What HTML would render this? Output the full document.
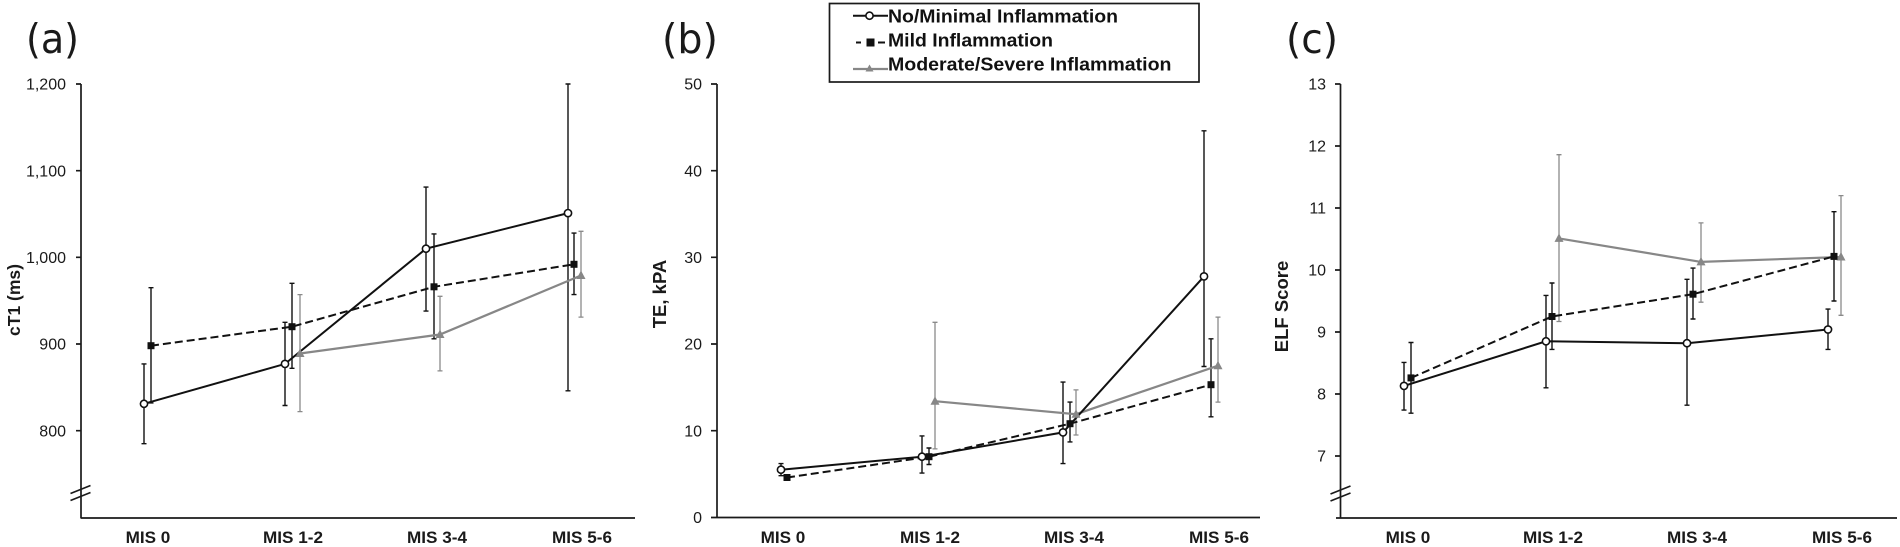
<!DOCTYPE html>
<html>
<head>
<meta charset="utf-8">
<style>
  html, body { margin: 0; padding: 0; background: #ffffff; }
  body { width: 1900px; height: 547px; overflow: hidden; }
  svg { display: block; }
  .tick { font-family: "Liberation Sans", Arial, sans-serif; font-size: 16px; fill: #1a1a1a; text-anchor: end; }
  .xl { font-family: "Liberation Sans", Arial, sans-serif; font-size: 16.5px; font-weight: bold; fill: #1a1a1a; text-anchor: middle; }
  .yt { font-family: "Liberation Sans", Arial, sans-serif; font-weight: bold; fill: #1a1a1a; text-anchor: middle; }
  .pl { font-family: "DejaVu Sans", "Liberation Sans", sans-serif; font-size: 41px; fill: #1a1a1a; }
  .lg { font-family: "Liberation Sans", Arial, sans-serif; font-size: 18.6px; font-weight: bold; fill: #111; }
  .ax { stroke: #1a1a1a; stroke-width: 1.7; fill: none; }
  .eb { stroke: #111; stroke-width: 1.4; fill: none; }
  .ebg { stroke: #8a8a8a; stroke-width: 1.3; fill: none; }
  .ls { stroke: #111; stroke-width: 2; fill: none; }
  .ld { stroke: #111; stroke-width: 2; fill: none; stroke-dasharray: 8 4; }
  .lgy { stroke: #878787; stroke-width: 2.2; fill: none; }
  .circ { fill: #fff; stroke: #111; stroke-width: 1.6; }
  .sq { fill: #111; }
  .tri { fill: #878787; }
</style>
</head>
<body>
<svg width="1900" height="547" viewBox="0 0 1900 547" xmlns="http://www.w3.org/2000/svg">
  <rect x="0" y="0" width="1900" height="547" fill="#fff"/>

  <!-- ================= Panel (a) ================= -->
  <text class="pl" x="26" y="53" textLength="53" lengthAdjust="spacingAndGlyphs">(a)</text>
  <path class="ax" d="M81,84 V518.5 M81,518 H635"/>
  <path class="ax" d="M76,84 H81 M76,170.7 H81 M76,257.3 H81 M76,344 H81 M76,430.7 H81"/>
  <path class="ax" d="M70.5,493.5 L90.5,485.5 M70.5,500.5 L90.5,492.5" stroke-width="1.4"/>
  <text class="tick" x="66" y="89.7">1,200</text>
  <text class="tick" x="66" y="176.4">1,100</text>
  <text class="tick" x="66" y="263">1,000</text>
  <text class="tick" x="66" y="349.7">900</text>
  <text class="tick" x="66" y="436.4">800</text>
  <text class="yt" font-size="17.5" transform="translate(20,300) rotate(-90)">cT1 (ms)</text>
  <text class="xl" x="148" y="543" textLength="44.7" lengthAdjust="spacingAndGlyphs">MIS 0</text>
  <text class="xl" x="293" y="543" textLength="60" lengthAdjust="spacingAndGlyphs">MIS 1-2</text>
  <text class="xl" x="437" y="543" textLength="60" lengthAdjust="spacingAndGlyphs">MIS 3-4</text>
  <text class="xl" x="582" y="543" textLength="60" lengthAdjust="spacingAndGlyphs">MIS 5-6</text>
  <path class="ebg" d="M300,294.6 V411.6 M297.5,294.6 H302.5 M297.5,411.6 H302.5
                       M440,296.3 V370.9 M437.5,296.3 H442.5 M437.5,370.9 H442.5
                       M581,231.3 V317.1 M578.5,231.3 H583.5 M578.5,317.1 H583.5"/>
  <path class="eb" d="M151,287.7 V402.9 M148.5,287.7 H153.5 M148.5,402.9 H153.5
                      M292,283.3 V368.3 M289.5,283.3 H294.5 M289.5,368.3 H294.5
                      M434,233.9 V338.8 M431.5,233.9 H436.5 M431.5,338.8 H436.5
                      M574,233.1 V294.6 M571.5,233.1 H576.5 M571.5,294.6 H576.5"/>
  <path class="eb" d="M144,363.9 V443.7 M141.5,363.9 H146.5 M141.5,443.7 H146.5
                      M285,322.3 V405.5 M282.5,322.3 H287.5 M282.5,405.5 H287.5
                      M426,187.1 V311.1 M423.5,187.1 H428.5 M423.5,311.1 H428.5
                      M568,84 V390.8 M565.5,84 H570.5 M565.5,390.8 H570.5"/>
  <path class="lgy" d="M300,353.5 L440,334.5 L581,275.5"/>
  <path class="ld" d="M151,345.7 L292,326.7 L434,286.8 L574,264.3"/>
  <path class="ls" d="M144,403.8 L285,363.9 L426,248.7 L568,213.1"/>
  <path class="tri" d="M300,348.5 L295.5,357 L304.5,357 Z M440,329.5 L435.5,338 L444.5,338 Z M581,270.5 L576.5,279 L585.5,279 Z"/>
  <rect class="sq" x="147.5" y="342.2" width="7" height="7"/>
  <rect class="sq" x="288.5" y="323.2" width="7" height="7"/>
  <rect class="sq" x="430.5" y="283.3" width="7" height="7"/>
  <rect class="sq" x="570.5" y="260.8" width="7" height="7"/>
  <circle class="circ" cx="144" cy="403.8" r="3.6"/>
  <circle class="circ" cx="285" cy="363.9" r="3.6"/>
  <circle class="circ" cx="426" cy="248.7" r="3.6"/>
  <circle class="circ" cx="568" cy="213.1" r="3.6"/>

  <!-- ================= Panel (b) ================= -->
  <text class="pl" x="662" y="53" textLength="56" lengthAdjust="spacingAndGlyphs">(b)</text>
  <path class="ax" d="M717,84 V518 M711,517.5 H1260"/>
  <path class="ax" d="M711,84 H717 M711,170.7 H717 M711,257.3 H717 M711,344 H717 M711,430.7 H717"/>
  <text class="tick" x="702" y="89.7">50</text>
  <text class="tick" x="702" y="176.4">40</text>
  <text class="tick" x="702" y="263">30</text>
  <text class="tick" x="702" y="349.7">20</text>
  <text class="tick" x="702" y="436.4">10</text>
  <text class="tick" x="702" y="523">0</text>
  <text class="yt" font-size="18.5" transform="translate(666,294) rotate(-90)">TE, kPA</text>
  <text class="xl" x="783" y="543" textLength="44.7" lengthAdjust="spacingAndGlyphs">MIS 0</text>
  <text class="xl" x="930" y="543" textLength="60" lengthAdjust="spacingAndGlyphs">MIS 1-2</text>
  <text class="xl" x="1074" y="543" textLength="60" lengthAdjust="spacingAndGlyphs">MIS 3-4</text>
  <text class="xl" x="1219" y="543" textLength="60" lengthAdjust="spacingAndGlyphs">MIS 5-6</text>
  <path class="ebg" d="M935,322.3 V448.9 M932.5,322.3 H937.5 M932.5,448.9 H937.5
                       M1076,389.9 V435 M1073.5,389.9 H1078.5 M1073.5,435 H1078.5
                       M1218,317.1 V402.1 M1215.5,317.1 H1220.5 M1215.5,402.1 H1220.5"/>
  <path class="eb" d="M929,448 V464.5 M926.5,448 H931.5 M926.5,464.5 H931.5
                      M1070,402.1 V441.9 M1067.5,402.1 H1072.5 M1067.5,441.9 H1072.5
                      M1211,338.8 V416.8 M1208.5,338.8 H1213.5 M1208.5,416.8 H1213.5"/>
  <path class="eb" d="M781,463.6 V475.7 M778.5,463.6 H783.5 M778.5,475.7 H783.5
                      M922,435.9 V473.1 M919.5,435.9 H924.5 M919.5,473.1 H924.5
                      M1063,382.1 V463.6 M1060.5,382.1 H1065.5 M1060.5,463.6 H1065.5
                      M1204,130.8 V366.5 M1201.5,130.8 H1206.5 M1201.5,366.5 H1206.5"/>
  <path class="lgy" d="M935,401.2 L1076,414.2 L1218,365.7"/>
  <path class="ld" d="M787,477.5 L929,456.7 L1070,423.7 L1211,384.7"/>
  <path class="ls" d="M781,469.7 L922,456.7 L1063,432.4 L1204,276.4"/>
  <path class="tri" d="M935,396.2 L930.5,404.7 L939.5,404.7 Z M1076,409.2 L1071.5,417.7 L1080.5,417.7 Z M1218,360.7 L1213.5,369.2 L1222.5,369.2 Z"/>
  <rect class="sq" x="783.5" y="474" width="7" height="7"/>
  <rect class="sq" x="925.5" y="453.2" width="7" height="7"/>
  <rect class="sq" x="1066.5" y="420.2" width="7" height="7"/>
  <rect class="sq" x="1207.5" y="381.2" width="7" height="7"/>
  <circle class="circ" cx="781" cy="469.7" r="3.6"/>
  <circle class="circ" cx="922" cy="456.7" r="3.6"/>
  <circle class="circ" cx="1063" cy="432.4" r="3.6"/>
  <circle class="circ" cx="1204" cy="276.4" r="3.6"/>

  <!-- Legend -->
  <rect x="829.5" y="3.5" width="369.5" height="78.5" fill="#fff" stroke="#1a1a1a" stroke-width="1.7"/>
  <path class="ls" d="M853,15.7 H888" stroke-width="1.8"/>
  <circle class="circ" cx="869.5" cy="15.7" r="3.6"/>
  <path class="ls" d="M856,42.5 H861 M878,42.5 H885" stroke-width="2"/>
  <rect class="sq" x="866.5" y="38.5" width="8" height="8"/>
  <path class="lgy" d="M853,69 H888"/>
  <path class="tri" d="M869.5,64.5 L865.5,71.5 L873.5,71.5 Z"/>
  <text class="lg" x="888" y="22.7" textLength="230" lengthAdjust="spacingAndGlyphs">No/Minimal Inflammation</text>
  <text class="lg" x="888" y="46.7" textLength="165" lengthAdjust="spacingAndGlyphs">Mild Inflammation</text>
  <text class="lg" x="888" y="70.7" textLength="283.5" lengthAdjust="spacingAndGlyphs">Moderate/Severe Inflammation</text>

  <!-- ================= Panel (c) ================= -->
  <text class="pl" x="1286" y="53" textLength="52" lengthAdjust="spacingAndGlyphs">(c)</text>
  <path class="ax" d="M1340.5,84 V518.5 M1336,518 H1897"/>
  <path class="ax" d="M1335,84 H1340.5 M1335,146 H1340.5 M1335,208 H1340.5 M1335,270 H1340.5 M1335,332 H1340.5 M1335,394 H1340.5 M1335,456 H1340.5"/>
  <path class="ax" d="M1330.5,494 L1350.5,486 M1330.5,501 L1350.5,493" stroke-width="1.4"/>
  <text class="tick" x="1326" y="89.7">13</text>
  <text class="tick" x="1326" y="151.7">12</text>
  <text class="tick" x="1326" y="213.7">11</text>
  <text class="tick" x="1326" y="275.7">10</text>
  <text class="tick" x="1326" y="337.7">9</text>
  <text class="tick" x="1326" y="399.7">8</text>
  <text class="tick" x="1326" y="461.7">7</text>
  <text class="yt" font-size="18.5" transform="translate(1288,306.5) rotate(-90)">ELF Score</text>
  <text class="xl" x="1408" y="543" textLength="44.7" lengthAdjust="spacingAndGlyphs">MIS 0</text>
  <text class="xl" x="1553" y="543" textLength="60" lengthAdjust="spacingAndGlyphs">MIS 1-2</text>
  <text class="xl" x="1697" y="543" textLength="60" lengthAdjust="spacingAndGlyphs">MIS 3-4</text>
  <text class="xl" x="1842" y="543" textLength="60" lengthAdjust="spacingAndGlyphs">MIS 5-6</text>
  <path class="ebg" d="M1559,154.7 V321.5 M1556.5,154.7 H1561.5 M1556.5,321.5 H1561.5
                       M1701,222.9 V302.2 M1698.5,222.9 H1703.5 M1698.5,302.2 H1703.5
                       M1841,195.6 V315.3 M1838.5,195.6 H1843.5 M1838.5,315.3 H1843.5"/>
  <path class="eb" d="M1411,342.5 V413.2 M1408.5,342.5 H1413.5 M1408.5,413.2 H1413.5
                      M1552,283 V349.4 M1549.5,283 H1554.5 M1549.5,349.4 H1554.5
                      M1693,268.1 V319 M1690.5,268.1 H1695.5 M1690.5,319 H1695.5
                      M1834,211.7 V301 M1831.5,211.7 H1836.5 M1831.5,301 H1836.5"/>
  <path class="eb" d="M1404,362.4 V410.1 M1401.5,362.4 H1406.5 M1401.5,410.1 H1406.5
                      M1546,295.4 V387.8 M1543.5,295.4 H1548.5 M1543.5,387.8 H1548.5
                      M1687,279.3 V405.2 M1684.5,279.3 H1689.5 M1684.5,405.2 H1689.5
                      M1828,309.1 V349.4 M1825.5,309.1 H1830.5 M1825.5,349.4 H1830.5"/>
  <path class="lgy" d="M1559,238.4 L1701,261.9 L1841,257"/>
  <path class="ld" d="M1411,377.9 L1552,316.5 L1693,294.2 L1834,256.4"/>
  <path class="ls" d="M1404,385.9 L1546,341.3 L1687,343.2 L1828,329.5"/>
  <path class="tri" d="M1559,233.4 L1554.5,241.9 L1563.5,241.9 Z M1701,256.9 L1696.5,265.4 L1705.5,265.4 Z M1841,252 L1836.5,260.5 L1845.5,260.5 Z"/>
  <rect class="sq" x="1407.5" y="374.4" width="7" height="7"/>
  <rect class="sq" x="1548.5" y="313" width="7" height="7"/>
  <rect class="sq" x="1689.5" y="290.7" width="7" height="7"/>
  <rect class="sq" x="1830.5" y="252.9" width="7" height="7"/>
  <circle class="circ" cx="1404" cy="385.9" r="3.6"/>
  <circle class="circ" cx="1546" cy="341.3" r="3.6"/>
  <circle class="circ" cx="1687" cy="343.2" r="3.6"/>
  <circle class="circ" cx="1828" cy="329.5" r="3.6"/>
</svg>
</body>
</html>
